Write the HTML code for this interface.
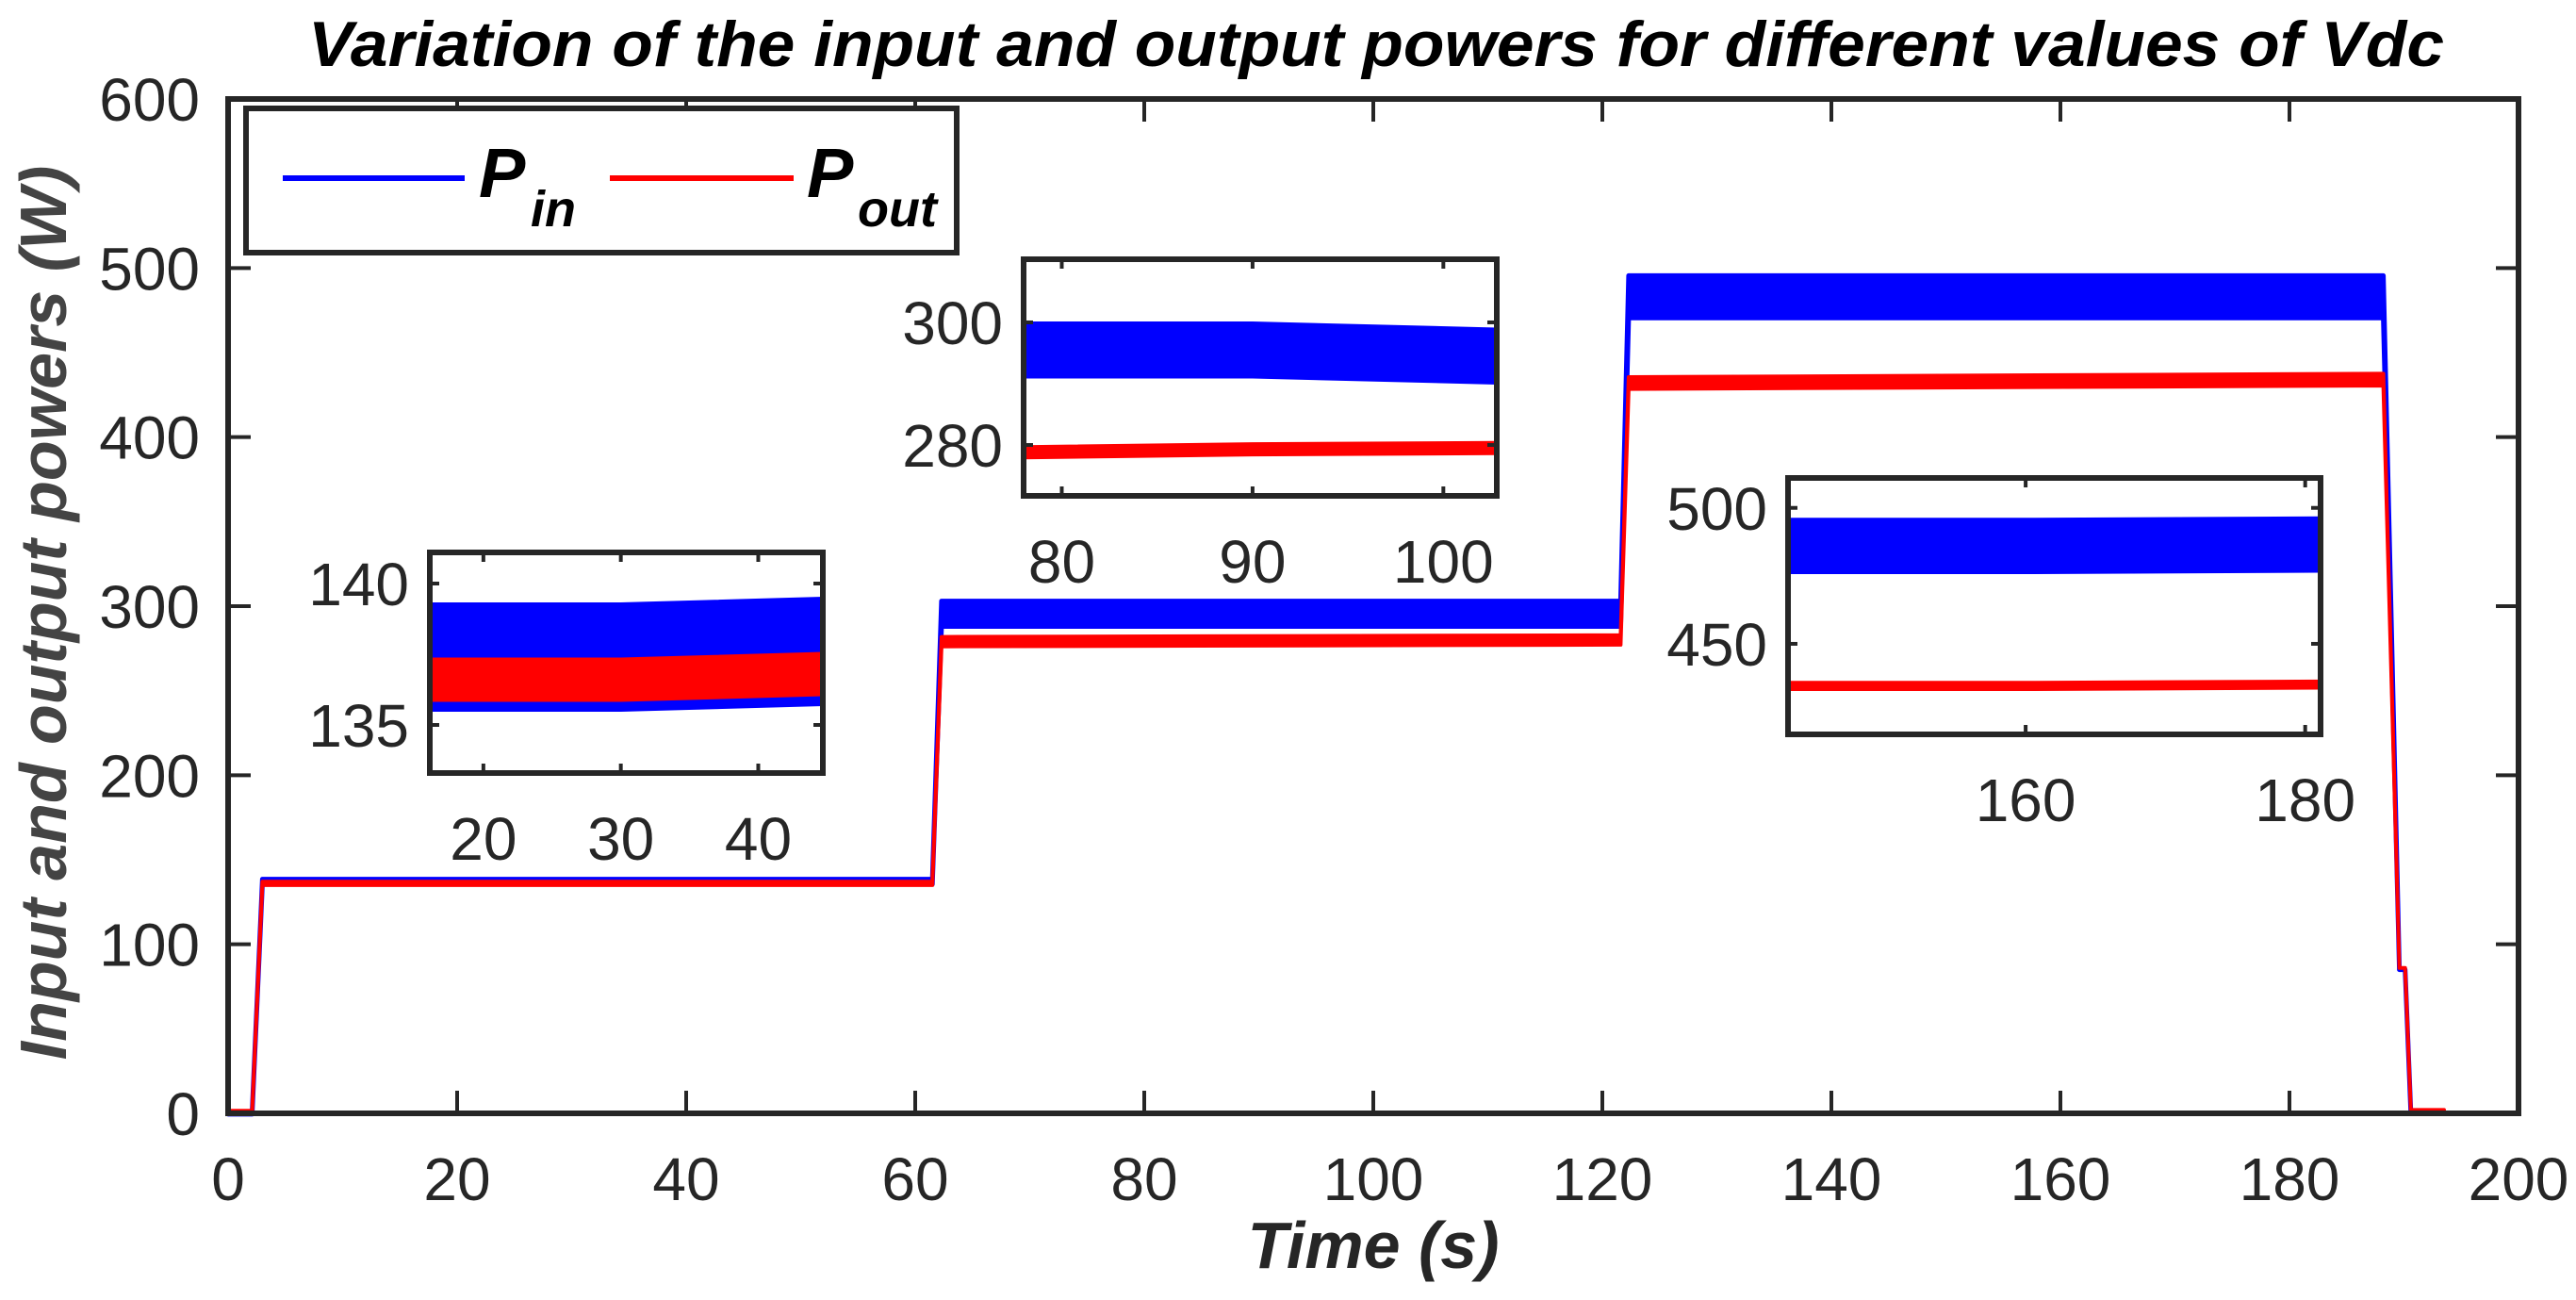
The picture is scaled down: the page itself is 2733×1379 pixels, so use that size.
<!DOCTYPE html>
<html><head><meta charset="utf-8"><style>
html,body{margin:0;padding:0;background:#fff;}
svg{display:block;font-family:"Liberation Sans",Arial,sans-serif;}
</style></head><body>
<svg id="chart" width="2733" height="1379" viewBox="0 0 2733 1379" xmlns="http://www.w3.org/2000/svg">
<rect width="2733" height="1379" fill="#fff"/>
<text x="1460" y="70" text-anchor="middle" font-size="68" font-weight="bold" font-style="italic" fill="#000" textLength="2266" lengthAdjust="spacingAndGlyphs">Variation of the input and output powers for different values of Vdc</text>
<text x="1457" y="1345" text-anchor="middle" font-size="70" font-weight="bold" font-style="italic" fill="#262626">Time (s)</text>
<text transform="translate(70,650) rotate(-90)" text-anchor="middle" font-size="70" font-weight="bold" font-style="italic" fill="#444">Input  and output powers (W)</text>
<g id="main"></g>
<g id="insets"></g>
<g id="legend">
<rect x="261" y="115" width="754" height="153" fill="#fff" stroke="#262626" stroke-width="6"/>
<line x1="300" y1="189" x2="493" y2="189" stroke="#0000ff" stroke-width="6"/>
<text x="508" y="209" font-size="74" font-weight="bold" font-style="italic">P</text>
<text x="563" y="240" font-size="54" font-weight="bold" font-style="italic">in</text>
<line x1="647" y1="189" x2="842" y2="189" stroke="#ff0000" stroke-width="6"/>
<text x="856" y="209" font-size="74" font-weight="bold" font-style="italic">P</text>
<text x="910" y="240" font-size="54" font-weight="bold" font-style="italic">out</text>
</g>
</svg>
<script>
// ---- main chart data ----
const mainXTicks = [0,20,40,60,80,100,120,140,160,180,200];
const mainYTicks = [0,100,200,300,400,500,600];
const pinTime  = [0, 2.1, 3.0, 61.5, 62.3, 121.6, 122.3, 188.2, 189.6, 190.1, 190.6, 193.5];
const pinVal   = [0, 0,   137, 137,  295.5, 295.5, 483,  483,   85,    85,    0,     0];
const pinAmp   = [0.5,0.5,1.5, 1.5,  7.5,  7.5,   12.5, 12.5,  0,     0,     0,     0];
const poutTime = [0, 2.1, 3.0, 61.5, 62.3, 121.6, 122.3, 188.2, 189.6, 190.1, 190.6, 193.5];
const poutVal  = [1, 1,   136, 136,  279,  280,   432,  434,   86,    86,    2,     2];
const poutAmp  = [0.5,0.5,1,   1,    2.8,  2.8,   3.5,  3.5,   0,     0,     0,     0];
// ---- inset data ----
const inset1XTicks = [20,30,40];
const inset1YTicks = [135,140];
const inset1Time = [16.1, 30, 44.7];
const inset1Pin  = [137.4, 137.4, 137.6];
const inset1PinAmp = [1.9, 1.9, 1.9];
const inset1Pout = [136.6, 136.6, 136.8];
const inset1PoutAmp = [0.75, 0.75, 0.75];
const inset2XTicks = [80,90,100];
const inset2YTicks = [280,300];
const inset2Time = [78.0, 90, 102.8];
const inset2Pin  = [295.5, 295.5, 294.5];
const inset2PinAmp = [4.5, 4.5, 4.5];
const inset2Pout = [278.8, 279.3, 279.5];
const inset2PoutAmp = [1.0, 1.0, 1.0];
const inset3XTicks = [160,180];
const inset3YTicks = [450,500];
const inset3Time = [143.0, 160, 181.1];
const inset3Pin  = [486, 486, 486.5];
const inset3PinAmp = [10, 10, 10];
const inset3Pout = [434.5, 434.5, 435];
const inset3PoutAmp = [1.5, 1.5, 1.5];

const NS = "http://www.w3.org/2000/svg";
function mk(tag, attrs, parent){const e=document.createElementNS(NS,tag);for(const k in attrs)e.setAttribute(k,attrs[k]);parent.appendChild(e);return e;}

function drawAxes(g, box, xr, yr, prefix){
  const sx = v => box.x + (v - xr[0]) / (xr[1] - xr[0]) * box.w;
  const sy = v => box.y + box.h - (v - yr[0]) / (yr[1] - yr[0]) * box.h;
  const bg = mk('rect',{x:box.x,y:box.y,width:box.w,height:box.h,fill:'#fff'},g);
  
  
  return {sx, sy};
}
function band(g, sx, sy, t, v, a, color, name, minW){
  let pts = [];
  for (let i=0;i<t.length;i++) pts.push(sx(t[i]).toFixed(1)+','+sy(v[i]+a[i]).toFixed(1));
  for (let i=t.length-1;i>=0;i--) pts.push(sx(t[i]).toFixed(1)+','+sy(v[i]-a[i]).toFixed(1));
  const p = mk('polygon',{points:pts.join(' '),fill:color,stroke:color,'stroke-width':minW,'stroke-linejoin':'round'},g);
  
  
}
function frame(g, box, sx, sy, xt, yt, tickLen, fs, prefix, o){
  const c = '#262626';
  for (const v of xt){
    const x = sx(v);
    mk('line',{x1:x,y1:box.y+box.h,x2:x,y2:box.y+box.h-tickLen,stroke:c,'stroke-width':4},g);
    mk('line',{x1:x,y1:box.y,x2:x,y2:box.y+tickLen,stroke:c,'stroke-width':4},g);
    const t = mk('text',{x:x,y:box.y+box.h+o.xdy,'text-anchor':'middle','font-size':fs,fill:c},g);
    t.textContent = v;
    
    
  }
  for (const v of yt){
    const y = sy(v);
    mk('line',{x1:box.x,y1:y,x2:box.x+tickLen,y2:y,stroke:c,'stroke-width':4},g);
    mk('line',{x1:box.x+box.w,y1:y,x2:box.x+box.w-tickLen,y2:y,stroke:c,'stroke-width':4},g);
    const t = mk('text',{x:box.x-o.ydx,y:y+fs*0.36,'text-anchor':'end','font-size':fs,fill:c},g);
    t.textContent = v;
    
    
  }
  const r = mk('rect',{x:box.x,y:box.y,width:box.w,height:box.h,fill:'none',stroke:c,'stroke-width':o.sw},g);
  
  
}

const gm = document.getElementById('main');
const mbox = {x:242,y:105,w:2430,h:1076};
const M = drawAxes(gm, mbox, [0,200], [0,600], 'main');
band(gm, M.sx, M.sy, pinTime, pinVal, pinAmp, '#0000ff', 'pin-series', 5);
band(gm, M.sx, M.sy, poutTime, poutVal, poutAmp, '#ff0000', 'pout-series', 4);
frame(gm, mbox, M.sx, M.sy, mainXTicks, mainYTicks, 24, 64, 'main', {xdy:92, ydx:30, sw:6});

const gi = document.getElementById('insets');
function inset(box, xr, yr, xt, yt, t, pin, pinA, pout, poutA, name){
  const g = mk('g',{},gi);
  
  
  const A = drawAxes(g, box, xr, yr, name);
  const cp = mk('clipPath',{id:name+'-clip'},g);
  mk('rect',{x:box.x,y:box.y,width:box.w,height:box.h},cp);
  const dg = mk('g',{'clip-path':'url(#'+name+'-clip)'},g);
  band(dg, A.sx, A.sy, t, pin, pinA, '#0000ff', name+'-pin-band', 2);
  band(dg, A.sx, A.sy, t, pout, poutA, '#ff0000', name+'-pout-band', 2);
  frame(g, box, A.sx, A.sy, xt, yt, 10, 64, name, {xdy:92, ydx:22, sw:6});
}
inset({x:456,y:586,w:417,h:234}, [16.1,44.7], [133.3,141.1], inset1XTicks, inset1YTicks,
  inset1Time, inset1Pin, inset1PinAmp, inset1Pout, inset1PoutAmp, 'inset-1');
inset({x:1086,y:275,w:502,h:251}, [78.0,102.8], [271.7,310.3], inset2XTicks, inset2YTicks,
  inset2Time, inset2Pin, inset2PinAmp, inset2Pout, inset2PoutAmp, 'inset-2');
inset({x:1897,y:507,w:565,h:272}, [143.0,181.1], [416.7,511], inset3XTicks, inset3YTicks,
  inset3Time, inset3Pin, inset3PinAmp, inset3Pout, inset3PoutAmp, 'inset-3');
</script>
</body></html>
